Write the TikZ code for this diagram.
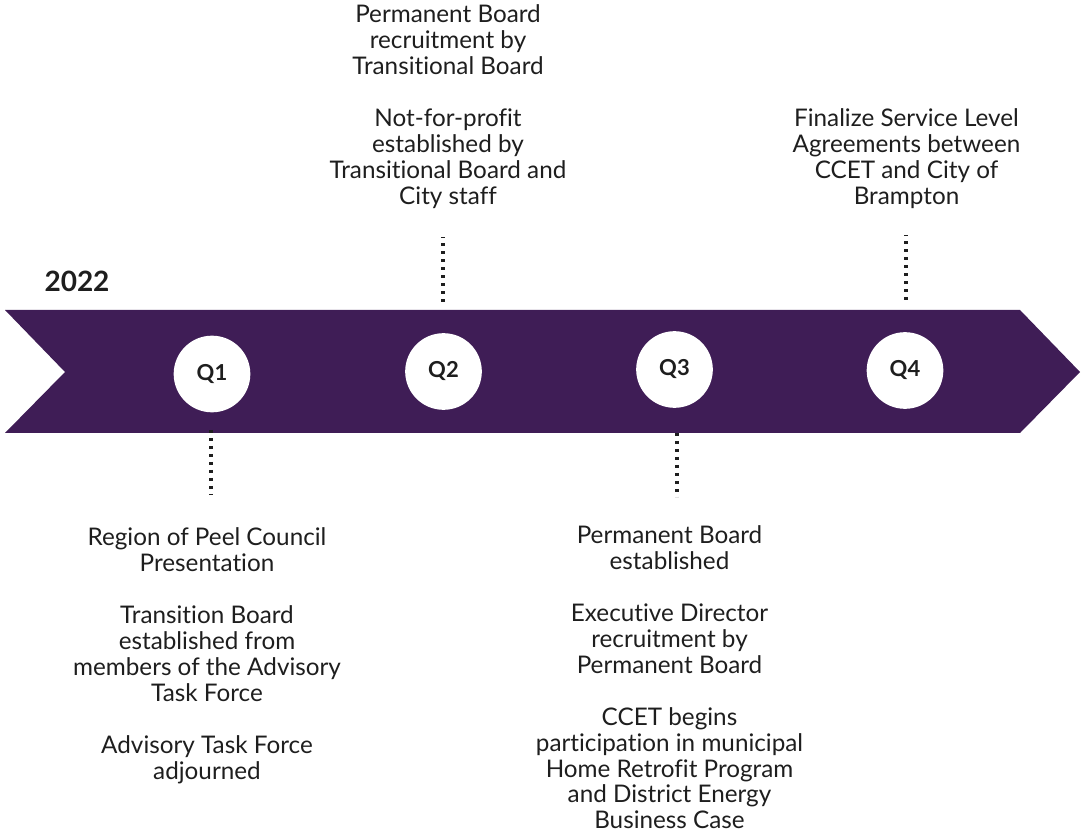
\documentclass[tikz,border=0pt]{standalone}
\usepackage{fontspec}
\setmainfont{Lato}[Ligatures={NoCommon}]
\definecolor{bandpurple}{HTML}{3F1D56}
\definecolor{txtgray}{HTML}{1E1E1E}

\begin{document}
\begin{tikzpicture}[x=0.75pt,y=-0.75pt,
  leader/.style={line width=2.3pt,dash pattern=on 2.3pt off 3.7pt,txtgray},
  quarter/.style={circle,fill=white,minimum size=57.5pt,inner sep=0pt,text=txtgray,font=\fontsize{16.5}{19}\selectfont\bfseries},
  event/.style={align=center,anchor=north,inner sep=0pt,text=txtgray,font=\fontsize{18.2}{19.45}\selectfont}]
\useasboundingbox (0,0) rectangle (1082,830);

\pgfmathsetmacro{\btop}{310};
\pgfmathsetmacro{\bbot}{433};

% the band
\fill[bandpurple] (5,\btop) -- (1020,\btop) -- (1080,372) -- (1020,\bbot) -- (5,\bbot) -- (65,372) -- cycle;

\node[text=txtgray,font=\fontsize{21}{24}\selectfont\bfseries] (year) at (77,281) {2022};

\node[quarter] (q1) at (212,374) {Q1};
\node[quarter] (q2) at (443.5,371.5) {Q2};
\node[quarter] (q3) at (674.5,369.5) {Q3};
\node[quarter] (q4) at (905,370.5) {Q4};

% leaders
\coordinate (q1a) at (211,430);
\coordinate (q1b) at (211,495);
\coordinate (q2a) at (443,302);
\coordinate (q2b) at (443,237);
\coordinate (q3a) at (677,433);
\coordinate (q3b) at (677,497);
\coordinate (q4a) at (906,300);
\coordinate (q4b) at (906,235);
\draw[leader] (q1a) -- (q1b);
\draw[leader] (q2a) -- (q2b);
\draw[leader] (q3a) -- (q3b);
\draw[leader] (q4a) -- (q4b);

% events
\node[event] (q1txt) at (207,527.5) {Region of Peel Council\\Presentation\\[19.45pt]
  Transition Board\\established from\\members of the Advisory\\Task Force\\[19.45pt]
  Advisory Task Force\\adjourned};
\node[event] (q2txt) at (448,4.5) {Permanent Board\\recruitment by\\Transitional Board\\[19.45pt]
  Not-for-profit\\established by\\Transitional Board and\\City staff};
\node[event] (q3txt) at (669.5,525.5) {Permanent Board\\established\\[19.45pt]
  Executive Director\\recruitment by\\Permanent Board\\[19.45pt]
  CCET begins\\participation in municipal\\Home Retrofit Program\\and District Energy\\Business Case};
\node[event] (q4txt) at (906.5,108.5) {Finalize Service Level\\Agreements between\\CCET and City of\\Brampton};
\end{tikzpicture}
\end{document}
